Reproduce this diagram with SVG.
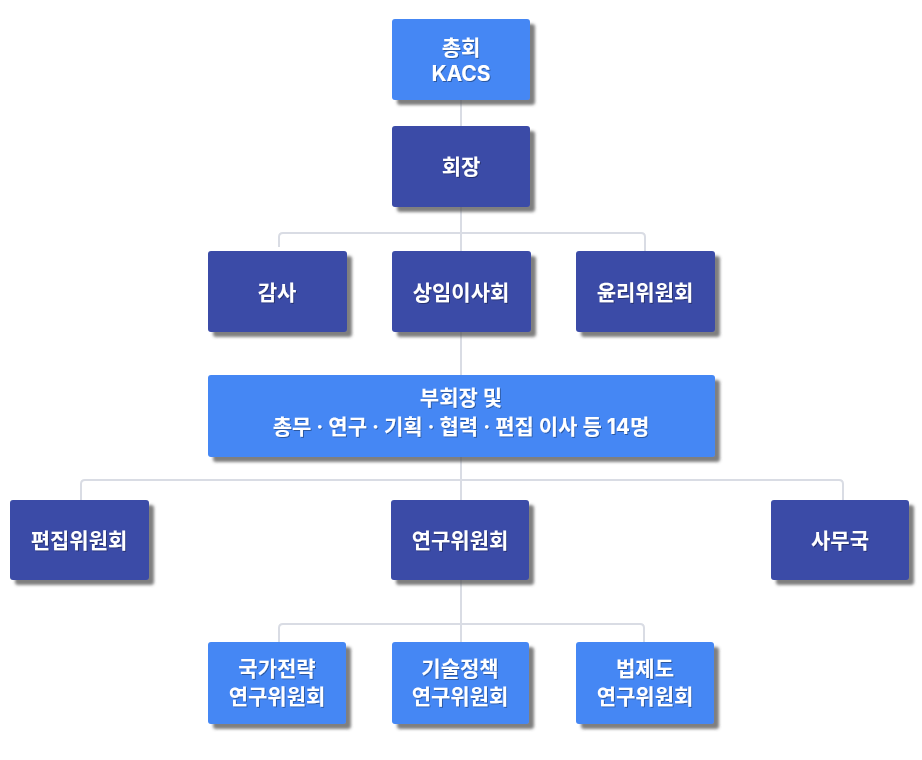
<svg xmlns="http://www.w3.org/2000/svg" width="922" height="760" viewBox="0 0 922 760">
<defs>
<filter id="sh" x="-10%" y="-10%" width="130%" height="140%">
<feDropShadow dx="5" dy="5" stdDeviation="1.6" flood-color="#555" flood-opacity="0.75"/>
</filter>
<filter id="ts" x="-5%" y="-20%" width="110%" height="140%">
<feDropShadow dx="1" dy="1" stdDeviation="0.4" flood-color="#000" flood-opacity="0.35"/>
</filter>
<style>
.c{fill:none;stroke:#d9dce4;stroke-width:2;stroke-linejoin:round}
.lb{fill:#4587f4}
.dk{fill:#3b4ba7}
rect{filter:url(#sh)}
text{font-family:Inter,"Noto Sans CJK KR","Noto Sans",sans-serif;font-weight:700;font-size:21px;fill:#fff;text-anchor:middle;filter:url(#ts)}
</style>
</defs>
<rect x="0" y="0" width="922" height="760" fill="#fff" style="filter:none"/>
<g id="connectors">
<path class="c" d="M461 100V642"/>
<path class="c" d="M279 247V237Q279 233 283 233H641Q645 233 645 237V251"/>
<path class="c" d="M81 500V484Q81 480 85 480H839Q843 480 843 484V500"/>
<path class="c" d="M279 642V628Q279 624 283 624H640Q644 624 644 628V642"/>
</g>
<g id="n1"><rect class="lb" x="392" y="19" width="138" height="81" rx="3"/><text x="461" y="55">총회</text><text x="461" y="81">KACS</text></g>
<g id="n2"><rect class="dk" x="392" y="126" width="138" height="81" rx="3"/><text x="461" y="174">회장</text></g>
<g id="n3"><rect class="dk" x="208" y="251" width="139" height="81" rx="3"/><text x="277" y="300">감사</text></g>
<g id="n4"><rect class="dk" x="392" y="251" width="139" height="81" rx="3"/><text x="461" y="300">상임이사회</text></g>
<g id="n5"><rect class="dk" x="576" y="251" width="139" height="81" rx="3"/><text x="645" y="300">윤리위원회</text></g>
<g id="n6"><rect class="lb" x="208" y="375" width="507" height="82" rx="3"/><text x="461" y="405">부회장 및</text><text x="461" y="434">총무 · 연구 · 기획 · 협력 · 편집 이사 등 14명</text></g>
<g id="n7"><rect class="dk" x="10" y="500" width="139" height="80" rx="3"/><text x="79" y="548">편집위원회</text></g>
<g id="n8"><rect class="dk" x="391" y="500" width="138" height="80" rx="3"/><text x="460" y="548">연구위원회</text></g>
<g id="n9"><rect class="dk" x="771" y="500" width="138" height="80" rx="3"/><text x="840" y="548">사무국</text></g>
<g id="n10"><rect class="lb" x="208" y="642" width="138" height="82" rx="3"/><text x="277" y="676">국가전략</text><text x="277" y="704">연구위원회</text></g>
<g id="n11"><rect class="lb" x="392" y="642" width="137" height="82" rx="3"/><text x="460" y="676">기술정책</text><text x="460" y="704">연구위원회</text></g>
<g id="n12"><rect class="lb" x="576" y="642" width="138" height="82" rx="3"/><text x="645" y="676">법제도</text><text x="645" y="704">연구위원회</text></g>
</svg>
